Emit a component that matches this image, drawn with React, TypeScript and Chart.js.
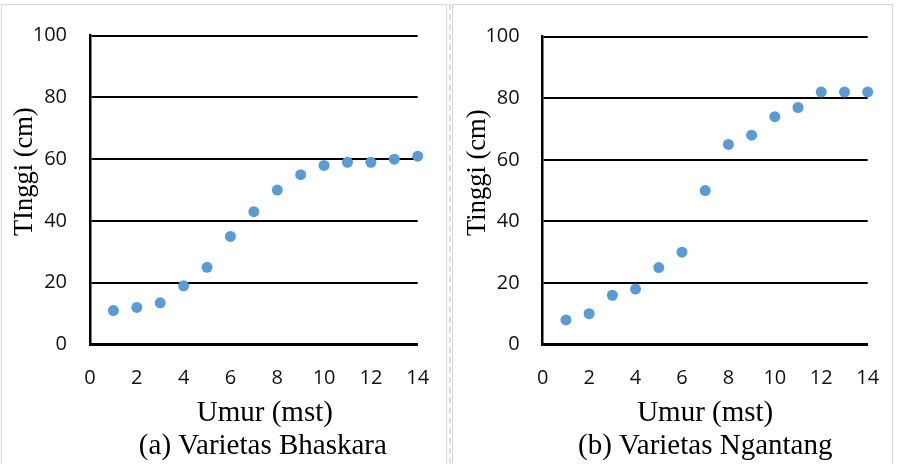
import React, { useEffect, useRef } from "react";
import { Chart, registerables } from "chart.js";

Chart.register(...registerables);

// ---- data ----
const weeks = [1, 2, 3, 4, 5, 6, 7, 8, 9, 10, 11, 12, 13, 14];
const bhaskaraHeights = [11, 12, 13.5, 19, 25, 35, 43, 50, 55, 58, 59, 59, 60, 61];
const ngantangHeights = [8, 10, 16, 18, 25, 30, 50, 65, 68, 74, 77, 82, 82, 82];
const xTickValues = [0, 2, 4, 6, 8, 10, 12, 14];
const yTickValues = [0, 20, 40, 60, 80, 100];

const xTitle = "Umur (mst)";
const yTitleA = "TInggi (cm)";
const yTitleB = "Tinggi (cm)";
const captionA = "(a) Varietas Bhaskara";
const captionB = "(b) Varietas Ngantang";

const SERIF = '"Liberation Serif", "Times New Roman", serif';
const SANS = '"Open Sans", "Liberation Sans", sans-serif';

const textPlugin = {
  id: "panelTexts",
  afterDraw(chart: any, _args: any, opts: any) {
    const { ctx, chartArea: a } = chart;
    ctx.save();
    ctx.fillStyle = "#000";
    ctx.textAlign = "center";
    ctx.textBaseline = "alphabetic";
    ctx.font = `${opts.titleSize}px ${SERIF}`;
    const cx = (a.left + a.right) / 2;
    ctx.fillText(opts.xTitle, cx + opts.xTitleShift, a.bottom + opts.xTitleDrop);
    ctx.fillText(opts.caption, cx + opts.captionShift, a.bottom + opts.captionDrop);
    ctx.translate(a.left - opts.yTitleGap, a.top + opts.yTitleCenter);
    ctx.rotate(-Math.PI / 2);
    ctx.font = `${opts.yTitleSize}px ${SERIF}`;
    ctx.fillText(opts.yTitle, 0, 0);
    ctx.restore();
  },
};

type PanelProps = {
  values: number[];
  yTitle: string;
  caption: string;
  left: number;
  width: number;
  padTop: number;
  padRight: number;
  yWidth: number;
  xTitleShift: number;
  captionShift: number;
};

function Panel(p: PanelProps) {
  const ref = useRef<HTMLCanvasElement | null>(null);
  useEffect(() => {
    if (!ref.current) return;
    const chart = new Chart(ref.current, {
      type: "scatter",
      data: {
        datasets: [
          {
            data: weeks.map((w, i) => ({ x: w, y: p.values[i] })),
            backgroundColor: "#5B9BD5",
            borderWidth: 0,
            pointRadius: 5.5,
            pointHoverRadius: 5.5,
            clip: false as any,
          },
        ],
      },
      plugins: [textPlugin as any],
      options: {
        animation: false,
        responsive: false,
        maintainAspectRatio: false,
        events: [],
        layout: {
          autoPadding: false,
          padding: { top: p.padTop, right: p.padRight, left: 0, bottom: 0 },
        },
        plugins: {
          legend: { display: false },
          tooltip: { enabled: false },
          panelTexts: {
            xTitle,
            caption: p.caption,
            yTitle: p.yTitle,
            titleSize: 29,
            yTitleSize: 26.5,
            xTitleShift: p.xTitleShift,
            captionShift: p.captionShift,
            xTitleDrop: 76,
            captionDrop: 109.5,
            yTitleGap: 58,
            yTitleCenter: 136,
          },
        } as any,
        scales: {
          x: {
            type: "linear",
            min: 0,
            max: 14,
            afterBuildTicks: (s: any) => {
              s.ticks = xTickValues.map((v) => ({ value: v }));
            },
            afterFit: (s: any) => {
              s.height = 119.5;
              s.paddingLeft = 0;
              s.paddingRight = 0;
            },
            grid: { display: false, drawTicks: false },
            border: { display: true, color: "#000", width: 2.5 },
            ticks: { padding: 22, color: "#111", font: { family: SANS, size: 20 } },
          },
          y: {
            type: "linear",
            min: 0,
            max: 100,
            afterBuildTicks: (s: any) => {
              s.ticks = yTickValues.map((v) => ({ value: v }));
            },
            afterFit: (s: any) => {
              s.width = p.yWidth;
              s.paddingTop = 0;
              s.paddingBottom = 0;
            },
            grid: { color: "#000", lineWidth: 2, drawTicks: false },
            border: { display: true, color: "#000", width: 2.5 },
            ticks: { padding: 23, color: "#111", font: { family: SANS, size: 20 } },
          },
        },
      } as any,
    });
    return () => chart.destroy();
  }, []);
  return (
    <canvas
      ref={ref}
      width={p.width}
      height={459}
      style={{ position: "absolute", left: p.left, top: 5, width: p.width, height: 459 }}
    />
  );
}

export default function App() {
  return (
    <div
      style={{
        position: "absolute",
        left: 0,
        top: 0,
        width: 897,
        height: 464,
        overflow: "hidden",
        background: "#fff",
      }}
    >
      <div
        style={{
          position: "absolute",
          left: 1,
          top: 4,
          width: 444,
          height: 480,
          border: "1px solid #d6d6d6",
        }}
      />
      <div
        style={{
          position: "absolute",
          left: 449,
          top: 4,
          width: 0,
          height: 480,
          borderLeft: "2px dashed #dcdcdc",
        }}
      />
      <div
        style={{
          position: "absolute",
          left: 452,
          top: 4,
          width: 439,
          height: 480,
          border: "1px solid #d6d6d6",
        }}
      />
      <Panel
        values={bhaskaraHeights}
        yTitle={yTitleA}
        caption={captionA}
        left={2}
        width={444}
        padTop={30.7}
        padRight={28.3}
        yWidth={88}
        xTitleShift={11}
        captionShift={9}
      />
      <Panel
        values={ngantangHeights}
        yTitle={yTitleB}
        caption={captionB}
        left={453}
        width={439}
        padTop={31.7}
        padRight={24.3}
        yWidth={89.7}
        xTitleShift={0}
        captionShift={0}
      />
    </div>
  );
}
